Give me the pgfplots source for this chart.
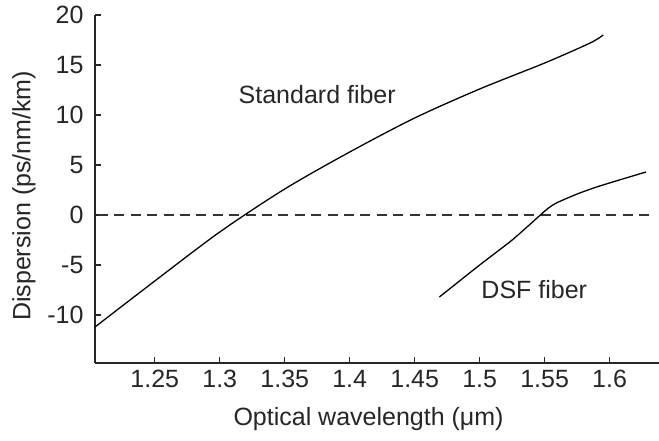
\documentclass[border=0pt]{standalone}
\usepackage{fontspec}
\setmainfont{Liberation Sans}
\usepackage{pgfplots}
\pgfplotsset{compat=1.18}
\begin{document}
\begin{tikzpicture}
\path[use as bounding box] (-95pt,-77pt) rectangle (564pt,363pt);
\begin{axis}[
  at={(0pt,0pt)}, anchor=south west,
  scale only axis, width=564pt, height=348pt,
  xmin=1.204, xmax=1.638, ymin=-14.8, ymax=20,
  axis lines=left, axis line style={-, line width=1.1pt, black!85},
  tick align=inside, major tick length=6pt, tick style={line width=1.1pt, black!85},
  xtick={1.25,1.3,1.35,1.4,1.45,1.5,1.55,1.6},
  xticklabels={1.25,1.3,1.35,1.4,1.45,1.5,1.55,1.6},
  ytick={-10,-5,0,5,10,15,20},
  yticklabels={-10,-5,0,5,10,15,20},
  ticklabel style={font=\fontsize{25}{28}\selectfont, text=black!85},
  xticklabel style={yshift=-4pt},
  yticklabel style={xshift=-8pt},
  xlabel={Optical wavelength (μm)},
  ylabel={Dispersion (ps/nm/km)},
  every axis x label/.style={at={(axis description cs:0.485,0)}, anchor=center, yshift=-56pt, font=\fontsize{25}{28}\selectfont, text=black!85},
  every axis y label/.style={at={(axis description cs:0,0.48)}, anchor=center, xshift=-71pt, rotate=90, font=\fontsize{25}{28}\selectfont, text=black!85},
  clip=false,
]
\addplot[black!80, line width=1.4pt, dash pattern=on 10pt off 6.4pt, dash phase=-3pt] coordinates {(1.204,0) (1.631,0)};
\addplot[black, line width=1.3pt, smooth, tension=0.5] coordinates {
(1.204,-11.2) (1.25,-6.6) (1.3,-1.7) (1.35,2.6)
(1.4,6.3) (1.45,9.7) (1.5,12.6) (1.55,15.2) (1.585,17.2) (1.595,18.0)};
\addplot[black, line width=1.3pt, smooth, tension=0.4] coordinates {
(1.469,-8.2) (1.50,-5.0) (1.525,-2.5) (1.545,-0.2) (1.552,0.6) (1.559,1.2) (1.575,2.1) (1.59,2.8) (1.61,3.6) (1.628,4.3)};
\node[font=\fontsize{25}{28}\selectfont, text=black!85] at (axis cs:1.375,12) {Standard fiber};
\node[font=\fontsize{25}{28}\selectfont, text=black!85] at (axis cs:1.542,-7.5) {DSF fiber};
\end{axis}
\end{tikzpicture}
\end{document}
